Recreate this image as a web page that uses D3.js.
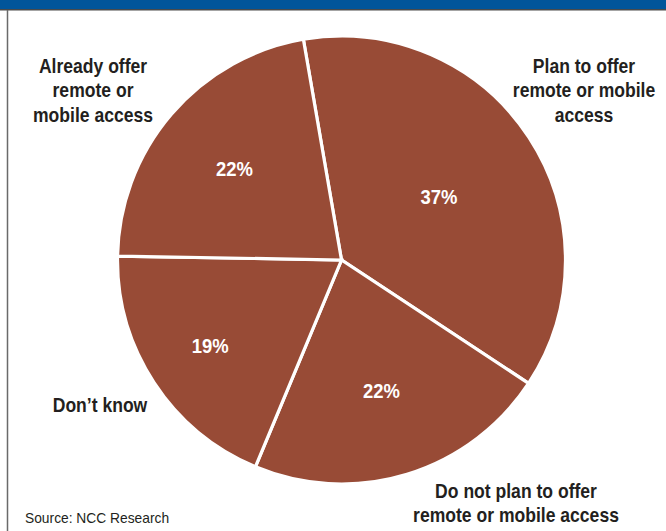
<!DOCTYPE html>
<html>
<head>
<meta charset="utf-8">
<script src="https://cdn.jsdelivr.net/npm/d3@7"></script>
<style>
  html, body { margin: 0; padding: 0; background: #ffffff; }
  svg { display: block; }
  text { font-family: "Liberation Sans", Arial, Helvetica, sans-serif; }
</style>
</head>
<body>
<svg id="chart" width="666" height="531"></svg>
<script>
// Survey answers, clockwise from the top
const categories = [
  "Plan to offer remote or mobile access",
  "Do not plan to offer remote or mobile access",
  "Don\u2019t know",
  "Already offer remote or mobile access"
];
const shares = [37, 22, 19, 22];
const percentLabels = ["37%", "22%", "19%", "22%"];

// Label lines for each slice's caption
const captionLines = [
  ["Plan to offer", "remote or mobile", "access"],
  ["Do not plan to offer", "remote or mobile access"],
  ["Don\u2019t know"],
  ["Already offer", "remote or", "mobile access"]
];
const sourceNote = "Source: NCC Research";

// Layout
const W = 666, H = 531;
const cx = 341.5, cy = 260, R = 224;
const startDeg = -9.8;
const pctRadius = [0.52, 0.61, 0.70, 0.63];
const captionPos = [[584, 73], [516, 498], [100, 412], [93, 73]];
const lineGap = 24.5;
const squeeze = 0.9;   // condensed look for the text

const svg = d3.select("#chart");

// Header band and frame
svg.append("rect").attr("x", 0).attr("y", 0).attr("width", W).attr("height", 9).attr("fill", "#01559a");
svg.append("rect").attr("x", 0).attr("y", 9).attr("width", W).attr("height", 1.5).attr("fill", "#4a4a4a");
svg.append("line").attr("x1", 7.5).attr("x2", 7.5).attr("y1", 10).attr("y2", H)
  .attr("stroke", "#6a6a6a").attr("stroke-width", 1.5);

const pie = d3.pie().sort(null).value(d => d)
  .startAngle(startDeg * Math.PI / 180)
  .endAngle((startDeg + 360) * Math.PI / 180);
const arcs = pie(shares);
const arc = d3.arc().innerRadius(0).outerRadius(R);

const g = svg.append("g").attr("transform", `translate(${cx},${cy})`);

g.selectAll("path.slice").data(arcs).join("path")
  .attr("class", "slice")
  .attr("d", arc)
  .attr("fill", "#984b36")
  .attr("stroke", "#ffffff")
  .attr("stroke-width", 3.2)
  .attr("stroke-linejoin", "miter");

// Percent labels inside slices
g.selectAll("text.pct").data(arcs).join("text")
  .attr("class", "pct")
  .attr("transform", (d, i) => {
    const a = d3.arc().innerRadius(R * pctRadius[i]).outerRadius(R * pctRadius[i]);
    const [x, y] = a.centroid(d);
    return `translate(${x},${y}) scale(${squeeze},1)`;
  })
  .attr("text-anchor", "middle")
  .attr("dy", "0.36em")
  .attr("fill", "#ffffff")
  .attr("font-weight", "bold")
  .attr("font-size", 20.5)
  .text((d, i) => percentLabels[i]);

// Captions outside the pie
categories.forEach((c, i) => {
  const t = svg.append("text")
    .attr("transform", `translate(${captionPos[i][0]},${captionPos[i][1]}) scale(${squeeze},1)`)
    .attr("text-anchor", "middle")
    .attr("font-weight", "bold")
    .attr("font-size", 19.5)
    .attr("fill", "#231f20");
  captionLines[i].forEach((ln, k) => {
    t.append("tspan").attr("x", 0).attr("dy", k === 0 ? 0 : lineGap).text(ln);
  });
});

svg.append("text")
  .attr("transform", `translate(25,523) scale(0.92,1)`)
  .attr("font-size", 15)
  .attr("fill", "#231f20")
  .text(sourceNote);
</script>
</body>
</html>
